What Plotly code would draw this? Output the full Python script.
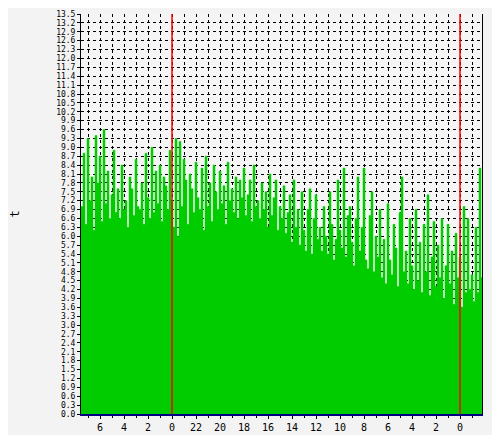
import pandas as pd
import plotly.graph_objects as go

# 10-minute samples left to right (approximate).
# The time axis runs backwards: the left edge is the latest time.
latest = "2024-01-02 07:35"
values = [
    7.0, 8.8, 6.4, 9.3, 7.2, 8.0, 6.2, 9.4, 7.8, 8.7, 6.5, 9.6, 7.1, 8.2, 6.6, 7.4,
    8.9, 6.8, 7.6, 6.6, 8.4, 6.9, 7.2, 6.3, 8.0, 7.6, 6.7, 8.6, 7.0, 6.9, 7.8, 6.4,
    8.8, 7.3, 6.6, 9.0, 6.8, 8.2, 7.1, 8.4, 6.5, 8.0, 7.7, 6.9, 8.9, 7.2, 6.3, 9.3,
    6.0, 9.2, 7.0, 8.6, 7.9, 6.4, 8.1, 7.6, 6.8, 8.5, 7.3, 6.9, 8.3, 6.2, 8.7, 7.0,
    7.8, 6.5, 8.4, 7.5, 6.9, 8.2, 7.1, 7.7, 6.4, 8.5, 7.2, 7.6, 6.8, 8.0, 6.6, 7.9,
    7.3, 8.3, 6.7, 7.4, 7.9, 6.5, 8.4, 7.0, 7.2, 6.6, 7.8, 6.9, 7.5, 6.3, 8.1, 6.7,
    7.3, 7.9, 6.2, 7.0, 6.6, 7.7, 6.1, 6.8, 7.4, 5.8, 7.9, 6.3, 6.9, 5.7, 7.5, 6.2,
    5.5, 6.9, 7.6, 5.4, 6.6, 7.4, 5.9, 6.3, 5.5, 7.0, 6.0, 5.4, 7.5, 6.4, 5.2, 5.9,
    7.9, 6.2, 5.6, 8.3, 5.3, 6.7, 7.0, 5.8, 5.0, 6.6, 8.0, 5.5, 6.3, 8.3, 5.2, 4.9,
    6.7, 7.5, 4.8, 6.0, 5.3, 6.9, 4.6, 5.9, 4.4, 7.1, 5.2, 4.7, 6.4, 5.6, 4.3, 6.8,
    8.0, 4.8, 5.5, 4.4, 6.6, 5.0, 4.2, 6.9, 4.5, 5.8, 4.1, 6.4, 4.8, 7.4, 4.0, 5.3,
    6.5, 4.3, 5.7, 4.6, 6.6, 3.9, 5.0, 6.4, 4.4, 5.5, 3.7, 6.1, 4.6, 5.3, 3.6, 7.0,
    4.1, 6.6, 4.2, 4.7, 3.8, 6.3, 4.1, 8.3, 4.6, 8.6,
]
times = [pd.Timestamp(latest) - pd.Timedelta(minutes=10 * i) for i in range(len(values))]
midnights = ["2024-01-01 00:00", "2024-01-02 00:00"]

fig = go.Figure()
fig.add_trace(go.Scatter(
    x=times, y=values, mode="lines", line=dict(shape="hv", width=0.5, color="#00cc00"),
    fill="tozeroy", fillcolor="#00cc00", showlegend=False,
))
for m in midnights:
    fig.add_vline(x=pd.Timestamp(m), line=dict(color="#ff0000", width=1.5), layer="above")

grid = dict(showgrid=True, gridcolor="black", griddash="dot", gridwidth=1,
            layer="above traces", automargin=False)
fig.update_xaxes(
    range=[times[0], times[-1] + pd.Timedelta("5min")],
    dtick=2 * 3600 * 1000, tick0="2024-01-01 00:00", tickformat="%-H",
    ticks="outside", ticklen=3, tickcolor="black",
    minor=dict(dtick=3600 * 1000, showgrid=True, gridcolor="black", griddash="dot",
               ticks="outside", ticklen=2, tickcolor="black"),
    showline=True, linecolor="#000080", linewidth=2, **grid,
)
fig.update_yaxes(
    range=[0, 13.5], dtick=0.3, tickformat=".1f", ticks="outside", ticklen=3, tickcolor="black",
    showline=True, linecolor="black", mirror=True, zeroline=False,
    tickfont=dict(size=8), title=dict(text="t", standoff=52), **grid,
)
fig.update_layout(
    width=492, height=427, margin=dict(l=73, r=18, t=6, b=21),
    paper_bgcolor="#f3f3f3", plot_bgcolor="#f5f5f5",
    font=dict(family="DejaVu Sans Mono", size=10, color="black"),
)
fig.write_html("out.html")
